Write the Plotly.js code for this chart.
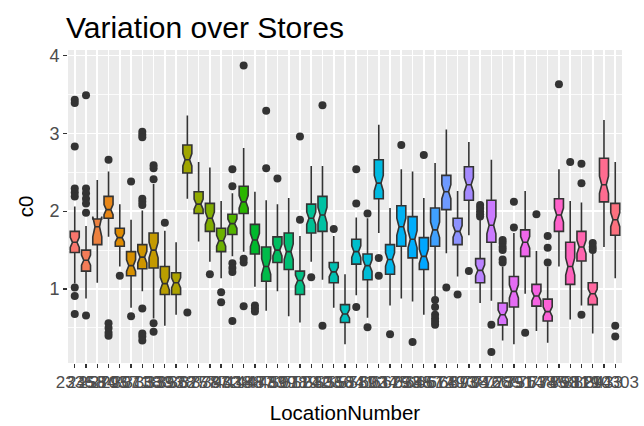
<!DOCTYPE html>
<html>
<head>
<meta charset="utf-8">
<script src="https://cdn.plot.ly/plotly-3.0.1.min.js"></script>
<style>html,body{margin:0;padding:0;background:#fff}#chart{width:644px;height:426px}</style>
</head>
<body>
<div id="chart"></div>
<script>
const labels = ["2336","2458","2584","2703","2957","3071","3138","3333","3393","3528","3627","3757","3787","3932","4038","4188","4487","4733","4899","5078","5119","5242","5303","5366","5584","5711","5892","6034","6175","6293","6388","6457","6612","6749","6873","6938","7042","7166","7285","7391","7514","7638","7745","7863","7981","8119","8294","8433","10303"];
const q1 = [1.47,1.23,1.57,1.91,1.55,1.17,1.26,1.27,0.93,0.93,2.49,1.97,1.74,1.48,1.70,1.97,1.45,1.10,1.34,1.25,0.93,1.72,1.74,1.08,0.57,1.32,1.12,2.16,1.19,1.55,1.40,1.25,1.55,2.02,1.57,2.14,1.08,1.60,0.54,0.77,1.42,0.78,0.59,1.74,1.06,1.36,0.80,2.12,1.69];
const median = [1.60,1.37,1.80,2.02,1.66,1.30,1.41,1.50,1.07,1.08,2.66,2.09,1.91,1.62,1.84,2.12,1.63,1.29,1.50,1.48,1.11,1.91,1.95,1.22,0.68,1.48,1.30,2.36,1.38,1.80,1.64,1.42,1.76,2.25,1.74,2.34,1.24,1.82,0.67,0.97,1.60,0.91,0.71,1.95,1.29,1.54,0.94,2.34,1.89];
const q3 = [1.74,1.50,1.90,2.19,1.78,1.48,1.57,1.72,1.29,1.21,2.85,2.25,2.10,1.78,1.96,2.32,1.83,1.54,1.67,1.72,1.23,2.09,2.19,1.34,0.80,1.64,1.45,2.66,1.57,2.07,1.93,1.66,2.04,2.46,1.91,2.57,1.39,2.14,0.82,1.16,1.76,1.06,0.87,2.16,1.60,1.74,1.08,2.68,2.10];
const lowerWhisker = [1.07,0.88,1.08,1.67,1.29,0.76,0.97,0.62,0.53,0.67,2.16,1.61,1.35,1.14,1.42,1.48,1.03,0.72,0.97,0.65,0.57,1.35,1.12,0.76,0.29,0.92,0.63,1.72,0.79,0.88,0.84,0.67,0.90,1.46,1.16,1.69,0.82,0.85,0.34,0.29,0.94,0.46,0.31,1.29,0.61,0.79,0.43,1.54,1.14];
const upperWhisker = [2.06,1.81,2.40,2.51,2.09,1.89,2.01,2.35,1.75,1.60,3.23,2.63,2.56,2.13,2.23,2.81,2.25,2.14,2.09,2.17,1.68,2.58,2.58,1.68,1.19,1.92,1.91,3.11,2.04,2.54,2.51,2.17,2.62,3.05,2.26,2.89,1.89,2.66,1.29,1.72,2.26,1.49,1.29,2.54,2.13,2.11,1.46,3.17,2.63];
const notch = [0.065,0.065,0.13,0.065,0.055,0.075,0.075,0.10,0.08,0.065,0.08,0.065,0.08,0.07,0.06,0.08,0.085,0.10,0.075,0.10,0.07,0.08,0.10,0.06,0.055,0.075,0.075,0.10,0.085,0.11,0.11,0.09,0.10,0.09,0.075,0.09,0.07,0.11,0.06,0.085,0.075,0.06,0.06,0.09,0.11,0.085,0.06,0.11,0.09];
const outliers = [
 [3.43,3.39,2.83,2.29,2.24,2.19,1.02,0.91,0.68],
 [3.49,2.29,2.23,2.16,2.10,1.98,0.66],
 [],
 [2.66,0.56,0.50,0.44,0.40],
 [1.17],
 [2.38,0.65],
 [3.02,2.98,2.95,2.16,2.12,2.08,0.75,0.43,0.39,0.34],
 [2.59,2.55,2.41,0.56,0.45],
 [1.85],
 [],
 [0.70],
 [],
 [1.19],
 [0.96,0.83],
 [2.54,2.32,1.33,1.27,1.22,0.59],
 [3.87,1.39,1.34,0.78],
 [0.79,0.75,0.71],
 [3.29,2.55],
 [2.42],
 [],
 [2.96,1.89],
 [1.15],
 [3.36,0.53],
 [1.77],
 [],
 [2.54,2.10,0.77],
 [1.97,0.51],
 [1.40,1.17],
 [0.42],
 [2.85],
 [0.32],
 [2.72],
 [0.86,0.77,0.67,0.62,0.58,0.54],
 [1.02],
 [0.93],
 [1.23],
 [2.08,2.04,2.00,1.96,1.93],
 [0.54,0.19],
 [1.63,1.59,1.54,1.50,1.38,1.34],
 [2.12,1.79],
 [0.44],
 [1.96],
 [1.68,1.53,1.34],
 [3.63],
 [2.63],
 [2.61,2.36,0.67],
 [1.59,1.54,1.50],
 [],
 [0.53,0.39]
];

// ggplot2 default hue palette (hcl, c=100, l=65)
function hcl2hex(h, c, l) {
  const WY = 100.0;
  const Wu = 0.1978398, Wv = 0.4683363;
  const hr = h * Math.PI / 180;
  const U = c * Math.cos(hr), V = c * Math.sin(hr);
  const Y = WY * ((l > 7.999592) ? Math.pow((l + 16) / 116, 3) : l / 903.3);
  const u = U / (13 * l) + Wu;
  const v = V / (13 * l) + Wv;
  const X = 9.0 * Y * u / (4 * v);
  const Z = -X / 3 - 5 * Y + 3 * Y / v;
  const g = t => { t = t > 0.00304 ? 1.055 * Math.pow(t, 1 / 2.4) - 0.055 : 12.92 * t; return Math.round(255 * Math.min(1, Math.max(0, t))); };
  const r = g((3.240479 * X - 1.537150 * Y - 0.498535 * Z) / WY);
  const gg = g((-0.969256 * X + 1.875992 * Y + 0.041556 * Z) / WY);
  const b = g((0.055648 * X - 0.204043 * Y + 1.057311 * Z) / WY);
  return '#' + [r, gg, b].map(x => x.toString(16).padStart(2, '0')).join('');
}
const n = labels.length;
const colors = labels.map((_, i) => hcl2hex(15 + i * 360 / n, 100, 65));

const traces = labels.map((lab, i) => ({
  type: 'box',
  x: [lab],
  q1: [q1[i]], median: [median[i]], q3: [q3[i]],
  lowerfence: [lowerWhisker[i]], upperfence: [upperWhisker[i]],
  notchspan: [notch[i]],
  notched: true, notchwidth: 0.25,
  width: 0.8, whiskerwidth: 0,
  fillcolor: colors[i],
  line: {color: '#333333', width: 1.6},
  boxpoints: false,
  hoverinfo: 'y',
  showlegend: false
}));

const ox = [], oy = [];
outliers.forEach((arr, i) => arr.forEach(v => { ox.push(labels[i]); oy.push(v); }));
traces.push({
  type: 'scatter', mode: 'markers', x: ox, y: oy,
  marker: {color: '#333333', size: 8},
  hoverinfo: 'y', showlegend: false
});

const layout = {
  width: 644, height: 426,
  margin: {l: 68, r: 22, t: 50, b: 63},
  paper_bgcolor: '#ffffff', plot_bgcolor: '#EBEBEB',
  font: {family: 'Liberation Sans, Arial, sans-serif', color: '#000000'},
  title: {text: 'Variation over Stores', font: {size: 30, color: '#000000'},
          x: 66/644, xref: 'container', xanchor: 'left', y: 1 - 27/426, yref: 'container', yanchor: 'middle'},
  xaxis: {
    type: 'category', categoryorder: 'array', categoryarray: labels,
    range: [-0.6, n - 0.4], tickangle: 0,
    tickmode: 'array', tickvals: labels, ticktext: labels,
    showgrid: true, gridcolor: '#ffffff', gridwidth: 1.6,
    ticks: 'outside', ticklen: 4, tickwidth: 1.3, tickcolor: '#333333',
    tickfont: {size: 17, color: '#4D4D4D'},
    zeroline: false, showline: false,
    title: {text: 'LocationNumber', font: {size: 20.5, color: '#000000'}, standoff: 14}
  },
  yaxis: {
    range: [0.05, 4.07], tickvals: [1, 2, 3, 4], ticktext: ['1', '2', '3', '4'],
    showgrid: true, gridcolor: '#ffffff', gridwidth: 1.6,
    minor: {tickvals: [0.5, 1.5, 2.5, 3.5], showgrid: true, gridcolor: '#ffffff', gridwidth: 0.8, ticks: ''},
    ticks: 'outside', ticklen: 4, tickwidth: 1.3, tickcolor: '#333333',
    tickfont: {size: 18, color: '#4D4D4D'},
    zeroline: false, showline: false,
    title: {text: 'c0', font: {size: 20.5, color: '#000000'}, standoff: 10}
  }
};

Plotly.newPlot('chart', traces, layout, {displayModeBar: false, staticPlot: true});
</script>
</body>
</html>
